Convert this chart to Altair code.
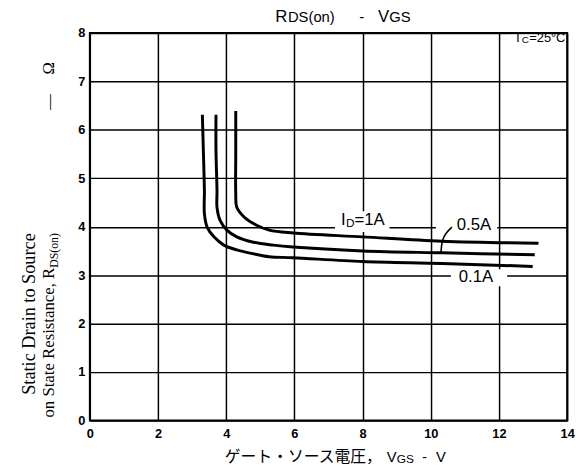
import altair as alt
import pandas as pd

# ---- data ----
x_ticks = [0, 2, 4, 6, 8, 10, 12, 14]
y_ticks = [0, 1, 2, 3, 4, 5, 6, 7, 8]

vgs_1a = [4.28, 4.28, 4.28, 4.31, 4.54, 4.89, 5.26, 5.96, 8.0, 10.33, 13.16]
rds_1a = [6.39, 5.56, 4.68, 4.40, 4.19, 4.03, 3.93, 3.87, 3.79, 3.70, 3.66]

vgs_05a = [3.70, 3.70, 3.73, 3.73, 3.82, 4.02, 4.31, 4.80, 5.38, 5.96, 8.0, 10.33, 13.05]
rds_05a = [6.31, 5.56, 4.74, 4.40, 4.13, 3.93, 3.79, 3.68, 3.62, 3.58, 3.50, 3.46, 3.42]

vgs_01a = [3.30, 3.33, 3.36, 3.36, 3.44, 3.64, 3.93, 4.31, 4.80, 5.26, 5.96, 8.0, 10.33, 12.99]
rds_01a = [6.31, 5.56, 4.74, 4.27, 3.99, 3.79, 3.62, 3.52, 3.44, 3.38, 3.36, 3.28, 3.24, 3.18]

# leader from the "0.5A" label to its curve
hook_x = [10.62, 10.44, 10.33, 10.30]
hook_y = [3.99, 3.87, 3.73, 3.48]

# white label backgrounds (data coords)
box_x = [7.19, 10.15, 10.59, 12.29]
box_x2 = [8.79, 11.95, 12.24, 13.94]
box_y = [4.32, 4.23, 3.12, 7.96]
box_y2 = [3.89, 3.85, 2.77, 7.43]

# horizontal sans texts
sans_text = ["R", "DS(on)", "-", "V", "GS",
             "T", "C", "=25°C",
             "I", "D", "=1A", "0.5A", "0.1A",
             "V", "GS", "-", "V"]
sans_x = [5.44, 5.81, 7.90, 8.45, 8.78,
          12.44, 12.67, 12.89,
          7.37, 7.51, 7.76, 10.76, 10.82,
          8.71, 9.00, 9.75, 10.15]
sans_y = [8.22, 8.22, 8.22, 8.22, 8.22,
          7.82, 7.79, 7.82,
          4.03, 3.99, 4.03, 3.93, 2.85,
          -0.855, -0.875, -0.855, -0.855]
sans_size = [17, 15, 15, 17, 15,
             13, 10, 13,
             17, 12, 17, 17, 17,
             15, 12, 14, 15]

# CJK axis title
cjk_text = ["ゲート・ソース電圧，"]
cjk_x = [3.96]
cjk_y = [-0.855]

# rotated serif y-title pieces
ser_text = ["Static Drain to Source", "on State Resistance, R", "DS(on)", "—", "Ω"]
ser_x = [-1.62, -1.04, -0.94, -1.04, -1.04]
ser_y = [0.53, 0.06, 3.15, 6.41, 7.14]
ser_size = [18.5, 17, 12, 16, 17]

# ---- tables ----
rows = []
for name, xs_, ys_ in [("1A", vgs_1a, rds_1a), ("0.5A", vgs_05a, rds_05a), ("0.1A", vgs_01a, rds_01a)]:
    for i, (a, b) in enumerate(zip(xs_, ys_)):
        rows.append({"x": a, "y": b, "series": name, "order": i})
curves = pd.DataFrame(rows)
hook = pd.DataFrame({"x": hook_x, "y": hook_y, "order": list(range(len(hook_x)))})
boxes = pd.DataFrame({"x": box_x, "x2": box_x2, "y": box_y, "y2": box_y2})
sans = pd.DataFrame({"x": sans_x, "y": sans_y, "text": sans_text, "size": sans_size})
cjk = pd.DataFrame({"x": cjk_x, "y": cjk_y, "text": cjk_text})
ser = pd.DataFrame({"x": ser_x, "y": ser_y, "text": ser_text, "size": ser_size})

xs = alt.Scale(domain=[0, 14], nice=False, zero=False)
ys = alt.Scale(domain=[0, 8], nice=False, zero=False)

x_axis = alt.Axis(values=x_ticks, grid=True, gridColor="black", gridWidth=1.5, gridOpacity=1,
                  ticks=False, domain=False, labelFont="Liberation Sans", labelFontWeight="bold",
                  labelFontSize=13, labelColor="black", labelPadding=7, labelOverlap=False,
                  labelFlush=False, title=None)
y_axis = alt.Axis(values=y_ticks, grid=True, gridColor="black", gridWidth=1.5, gridOpacity=1,
                  ticks=False, domain=False, labelFont="Liberation Sans", labelFontWeight="bold",
                  labelFontSize=13, labelColor="black", labelPadding=5, labelOverlap=False,
                  labelFlush=False, title=None)

box_layer = alt.Chart(boxes).mark_rect(fill="white").encode(
    x=alt.X("x:Q", scale=xs, axis=x_axis), x2="x2:Q",
    y=alt.Y("y:Q", scale=ys, axis=y_axis), y2="y2:Q")

curve_layer = alt.Chart(curves).mark_line(color="black", strokeWidth=3, interpolate="catmull-rom").encode(
    x=alt.X("x:Q", scale=xs), y=alt.Y("y:Q", scale=ys), detail="series:N", order="order:Q")

hook_layer = alt.Chart(hook).mark_line(color="black", strokeWidth=1.6, interpolate="basis").encode(
    x=alt.X("x:Q", scale=xs), y=alt.Y("y:Q", scale=ys), order="order:Q")

sans_layer = alt.Chart(sans).mark_text(align="left", baseline="alphabetic", font="Liberation Sans",
                                       color="black").encode(
    x=alt.X("x:Q", scale=xs), y=alt.Y("y:Q", scale=ys), text="text:N",
    size=alt.Size("size:Q", scale=None))

cjk_layer = alt.Chart(cjk).mark_text(align="left", baseline="alphabetic", font="Noto Sans CJK JP",
                                     fontSize=16, color="black").encode(
    x=alt.X("x:Q", scale=xs), y=alt.Y("y:Q", scale=ys), text="text:N")

ser_layer = alt.Chart(ser).mark_text(align="left", baseline="alphabetic", angle=270,
                                     font="Liberation Serif", color="black").encode(
    x=alt.X("x:Q", scale=xs), y=alt.Y("y:Q", scale=ys), text="text:N",
    size=alt.Size("size:Q", scale=None))

chart = alt.layer(box_layer, curve_layer, hook_layer, sans_layer, cjk_layer, ser_layer).properties(
    width=484, height=393,
    autosize=alt.AutoSizeParams(type="none"),
    padding={"left": 83, "top": 22, "right": 10, "bottom": 49},
    background="white",
).configure_view(stroke="black", strokeWidth=2)

chart.save("out.html", embed_options={"renderer": "svg", "actions": False})
